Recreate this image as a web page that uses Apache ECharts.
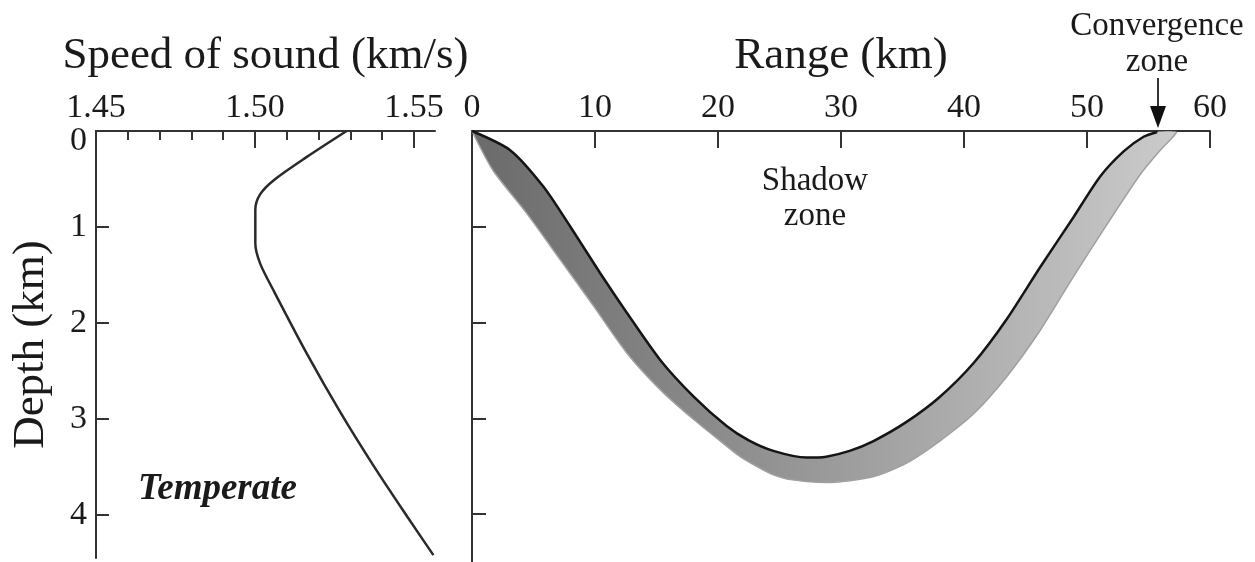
<!DOCTYPE html>
<html>
<head>
<meta charset="utf-8">
<script src="https://cdn.jsdelivr.net/npm/echarts@6/dist/echarts.min.js"></script>
<style>
  html, body { margin: 0; padding: 0; background: #fff; }
  #chart { width: 1255px; height: 562px; }
</style>
</head>
<body>
<div id="chart"></div>
<script>
// sound speed profile, temperate ocean
const profileDepth = [0, 0.27, 0.51, 0.66, 0.82, 1.17, 1.38, 1.66, 2.32, 2.94, 3.50, 4.02, 4.42];
const profileSpeed = [1.5288, 1.5163, 1.5060, 1.5016, 1.5001, 1.5001, 1.5016, 1.5058, 1.5163, 1.5270, 1.5375, 1.5479, 1.5561];

// ray bundle: inner (dark) edge and outer edge
const innerRange = [0, 3.1, 5.8, 8.0, 10.4, 12.6, 15.3, 18.0, 20.7, 22.5, 24.5, 27.2, 28.8, 30.7, 32.6, 35.3, 38.0, 40.8, 43.5, 46.2, 48.9, 51.1, 53.0, 54.6, 55.7];
const innerDepth = [0, 0.20, 0.58, 1.00, 1.48, 1.90, 2.39, 2.77, 3.08, 3.23, 3.34, 3.41, 3.40, 3.34, 3.24, 3.04, 2.78, 2.42, 1.96, 1.42, 0.90, 0.47, 0.21, 0.06, 0.01];
const outerRange = [0, 1.7, 4.45, 7.15, 9.9, 12.6, 15.3, 18.0, 20.7, 21.8, 23.4, 24.5, 25.9, 28.8, 32.6, 35.3, 38.0, 40.8, 43.5, 46.2, 48.9, 51.6, 54.3, 55.9, 57.0, 57.3];
const outerDepth = [0, 0.41, 0.86, 1.34, 1.83, 2.32, 2.70, 3.01, 3.29, 3.40, 3.52, 3.59, 3.64, 3.67, 3.61, 3.47, 3.24, 2.95, 2.56, 2.08, 1.52, 0.98, 0.46, 0.21, 0.06, 0.01];

const speedTicks = [1.45, 1.50, 1.55];
const rangeTicks = [0, 10, 20, 30, 40, 50, 60];
const depthTicks = [0, 1, 2, 3, 4];

const zip = (xs, ys) => xs.map((x, i) => [x, ys[i]]);

const FONT = '"Liberation Serif", "DejaVu Serif", serif';
const INK = '#1a1a1a';
const AXIS = '#333';

const chart = echarts.init(document.getElementById('chart'));

const labelStyle = { fontFamily: FONT, fontSize: 34, color: INK };
const nameStyle = { fontFamily: FONT, fontSize: 45, color: INK };

chart.setOption({
  animation: false,
  backgroundColor: '#fff',
  grid: [
    { left: 96, top: 131, width: 339, height: 427 },
    { left: 472, top: 131, width: 738, height: 432 }
  ],
  xAxis: [
    {
      gridIndex: 0,
      type: 'value',
      position: 'top',
      min: 1.45,
      max: 1.5566,
      interval: 0.05,
      name: 'Speed of sound (km/s)',
      nameLocation: 'middle',
      nameGap: 52,
      nameTextStyle: nameStyle,
      axisLine: { lineStyle: { color: AXIS, width: 2 } },
      axisTick: { inside: true, length: 17, customValues: speedTicks.slice(1), lineStyle: { color: AXIS, width: 2 } },
      minorTick: { show: true, splitNumber: 5, length: 9, lineStyle: { color: AXIS, width: 2 } },
      axisLabel: { ...labelStyle, margin: 6, customValues: speedTicks, formatter: v => v.toFixed(2) },
      splitLine: { show: false }
    },
    {
      gridIndex: 1,
      type: 'value',
      position: 'top',
      min: 0,
      max: 60,
      interval: 10,
      name: 'Range (km)',
      nameLocation: 'middle',
      nameGap: 52,
      nameTextStyle: nameStyle,
      axisLine: { lineStyle: { color: AXIS, width: 2 } },
      axisTick: { inside: true, length: 17, customValues: rangeTicks.slice(1), lineStyle: { color: AXIS, width: 2 } },
      axisLabel: { ...labelStyle, margin: 6, customValues: rangeTicks },
      splitLine: { show: false }
    }
  ],
  yAxis: [
    {
      gridIndex: 0,
      type: 'value',
      inverse: true,
      min: 0,
      max: 4.45,
      interval: 1,
      name: 'Depth (km)',
      nameLocation: 'middle',
      nameRotate: 90,
      nameGap: 42,
      nameTextStyle: nameStyle,
      axisLine: { show: true, lineStyle: { color: AXIS, width: 2 } },
      axisTick: { show: true, inside: true, length: 13, customValues: depthTicks.slice(1), lineStyle: { color: AXIS, width: 2 } },
      axisLabel: {
        ...labelStyle,
        margin: 9,
        customValues: depthTicks,
        formatter: v => (v === 0 ? '{z|0}' : String(v)),
        rich: { z: { fontFamily: FONT, fontSize: 34, color: INK, padding: [20, 0, 0, 0] } }
      },
      splitLine: { show: false }
    },
    {
      gridIndex: 1,
      type: 'value',
      inverse: true,
      min: 0,
      max: 4.5,
      interval: 1,
      axisLine: { show: true, lineStyle: { color: AXIS, width: 2 } },
      axisTick: { show: true, inside: true, length: 14, customValues: depthTicks.slice(1), lineStyle: { color: AXIS, width: 2 } },
      axisLabel: { show: false },
      splitLine: { show: false }
    }
  ],
  series: [
    {
      type: 'line',
      xAxisIndex: 0,
      yAxisIndex: 0,
      data: zip(profileSpeed, profileDepth),
      smooth: 0.3,
      showSymbol: false,
      lineStyle: { color: '#2a2a2a', width: 2.5 }
    },
    {
      type: 'custom',
      xAxisIndex: 1,
      yAxisIndex: 1,
      data: [[0, 0]],
      renderItem: (params, api) => {
        const pts = zip(innerRange, innerDepth)
          .concat(zip(outerRange, outerDepth).reverse())
          .map(p => api.coord(p));
        return {
          type: 'polygon',
          shape: { points: pts, smooth: 0.25 },
          style: {
            fill: new echarts.graphic.LinearGradient(0, 0, 1, 0, [
              { offset: 0, color: '#6a6a6a' },
              { offset: 0.45, color: '#959595' },
              { offset: 1, color: '#cbcbcb' }
            ]),
            stroke: null
          }
        };
      }
    },
    {
      type: 'line',
      xAxisIndex: 1,
      yAxisIndex: 1,
      data: zip(outerRange, outerDepth),
      smooth: 0.25,
      showSymbol: false,
      lineStyle: { color: '#a0a0a0', width: 1.5 }
    },
    {
      type: 'line',
      xAxisIndex: 1,
      yAxisIndex: 1,
      data: zip(innerRange, innerDepth),
      smooth: 0.25,
      showSymbol: false,
      lineStyle: { color: '#151515', width: 2.5 }
    }
  ],
  graphic: [
    {
      type: 'text',
      left: 138,
      top: 471,
      style: { text: 'Temperate', font: 'italic bold 37px ' + FONT, fill: INK }
    },
    {
      type: 'text',
      x: 815,
      y: 199,
      style: { text: 'Shadow\nzone', font: '33px ' + FONT, fill: INK, align: 'center', verticalAlign: 'middle', lineHeight: 35 }
    },
    {
      type: 'text',
      x: 1157,
      y: 44,
      style: { text: 'Convergence\nzone', font: '33px ' + FONT, fill: INK, align: 'center', verticalAlign: 'middle', lineHeight: 36 }
    },
    {
      type: 'line',
      shape: { x1: 1158, y1: 78, x2: 1158, y2: 110 },
      style: { stroke: AXIS, lineWidth: 2 }
    },
    {
      type: 'polygon',
      shape: { points: [[1150, 106], [1166, 106], [1158, 128]] },
      style: { fill: '#111' }
    }
  ]
});
</script>
</body>
</html>
